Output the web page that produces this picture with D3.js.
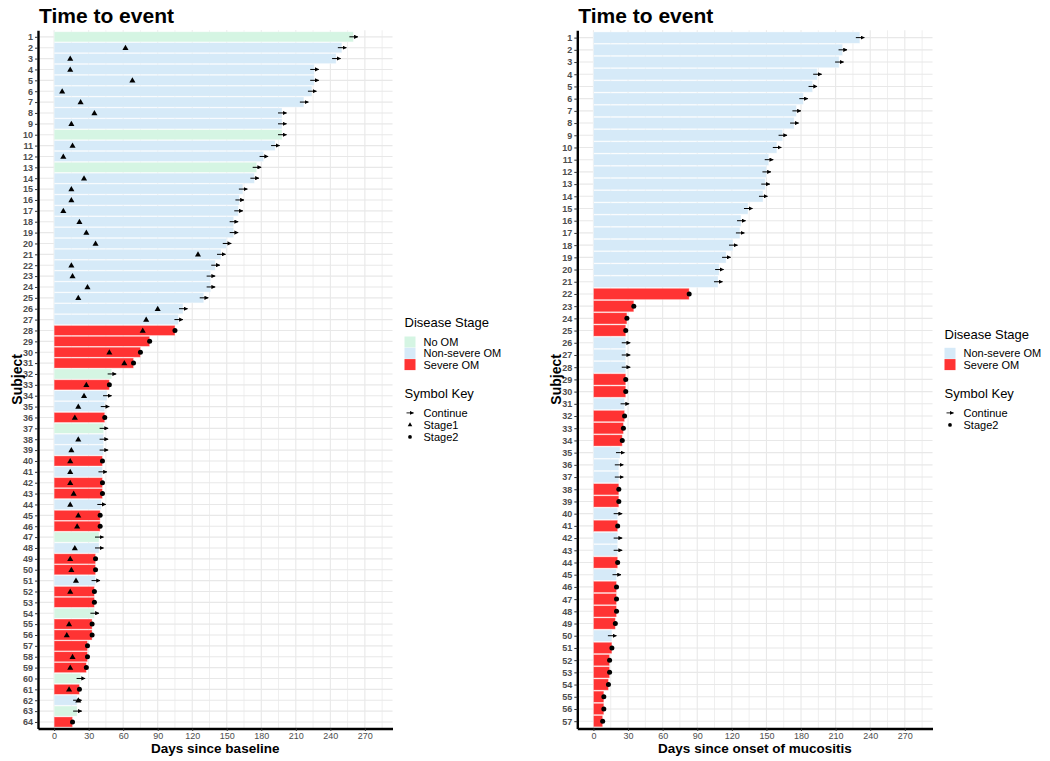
<!DOCTYPE html>
<html>
<head>
<meta charset="utf-8">
<script src="https://cdn.jsdelivr.net/npm/d3@7"></script>
<style>
  body { margin: 0; background: #fff; }
  svg { display: block; font-family: "Liberation Sans", Arial, sans-serif; }
</style>
</head>
<body>
<svg id="chart" width="1050" height="761"></svg>
<script>
// ---------------- DATA ----------------
const xTicks = [0, 30, 60, 90, 120, 150, 180, 210, 240, 270];
const xMinorTicks = [15, 45, 75, 105, 135, 165, 195, 225, 255, 285];

const stageLevels = ["No OM", "Non-severe OM", "Severe OM"];
const stageColors = ["#d5f5e3", "#d6eaf8", "#ff3333"];
const stageCodes = { N: "No OM", B: "Non-severe OM", R: "Severe OM" };

// Left panel: Days since baseline
const leftSubjects = ["1","2","3","4","5","6","7","8","9","10","11","12","13","14","15","16",
  "17","18","19","20","21","22","23","24","25","26","27","28","29","30","31","32",
  "33","34","35","36","37","38","39","40","41","42","43","44","45","46","47","48",
  "49","50","51","52","53","54","55","56","57","58","59","60","61","62","63","64"];
const leftDays = [260, 250, 245, 226, 226, 224, 217, 198, 198, 198, 192, 182, 176, 174, 164, 161,
  160, 156, 156, 150, 145, 140, 136, 136, 130, 112, 108, 105, 83, 75, 69, 50,
  48, 46, 44, 44, 43, 43, 43, 42, 42, 42, 42, 41, 40, 40, 39, 39,
  36, 36, 36, 35, 35, 35, 33, 33, 29, 29, 28, 23, 22, 20, 20, 16];
const leftStage = ["N","B","B","B","B","B","B","B","B","N","B","B","N","B","B","B",
  "B","B","B","B","B","B","B","B","B","B","B","R","R","R","R","N",
  "R","B","B","R","N","B","B","R","B","R","R","B","R","R","N","B",
  "R","R","B","R","R","N","R","R","R","R","R","N","R","B","N","R"];
const leftStage1 = [null, 62, 14, 14, 68, 7, 23, 35, 15, null, 16, 8, null, 26, 15, 15,
  8, 22, 28, 36, 125, 15, 16, 29, 21, 90, 80, 77, null, 48, 61, null,
  28, 26, 21, 18, null, 21, 15, 14, 14, 14, 17, 14, 21, 20, null, 18,
  14, 15, 19, 14, null, null, 13, 11, null, 16, 14, null, 13, 21, null, null];

// Right panel: Days since onset of mucositis
const rightSubjects = ["1","2","3","4","5","6","7","8","9","10","11","12","13","14","15","16",
  "17","18","19","20","21","22","23","24","25","26","27","28","29","30","31","32",
  "33","34","35","36","37","38","39","40","41","42","43","44","45","46","47","48",
  "49","50","51","52","53","54","55","56","57"];
const rightDays = [231, 216, 213, 194, 190, 182, 176, 174, 164, 159, 152, 150, 149, 147, 134, 128,
  127, 121, 115, 109, 108, 83, 35, 29, 28, 28, 28, 28, 28, 28, 27, 27,
  26, 25, 23, 22, 22, 22, 22, 21, 21, 21, 21, 21, 20, 20, 20, 20,
  19, 16, 16, 14, 14, 13, 9, 9, 8];
const rightStage = ["B","B","B","B","B","B","B","B","B","B","B","B","B","B","B","B",
  "B","B","B","B","B","R","R","R","R","B","B","B","R","R","B","R",
  "R","R","B","B","B","R","R","B","R","B","B","R","B","R","R","R",
  "R","B","R","R","R","R","R","R","R"];

const leftLegendStages = ["No OM", "Non-severe OM", "Severe OM"];
const rightLegendStages = ["Non-severe OM", "Severe OM"];
const leftLegendSymbols = ["Continue", "Stage1", "Stage2"];
const rightLegendSymbols = ["Continue", "Stage2"];

// ---------------- DRAW ----------------
const svg = d3.select("#chart");
const color = d3.scaleOrdinal(stageLevels, stageColors);
const triPath = d3.symbol(d3.symbolTriangle, 16)();

svg.append("defs").append("marker")
  .attr("id", "ah").attr("viewBox", "0 0 10 10")
  .attr("refX", 9).attr("refY", 5)
  .attr("markerWidth", 4.2).attr("markerHeight", 4.2)
  .attr("markerUnits", "userSpaceOnUse")
  .attr("orient", "auto")
  .append("path").attr("d", "M0,0 L10,5 L0,10 Z").attr("fill", "#000");

function drawArrow(g, x, y) {
  g.append("line")
    .attr("x1", x - 4).attr("x2", x + 4.5)
    .attr("y1", y).attr("y2", y)
    .attr("stroke", "#000").attr("stroke-width", 1)
    .attr("marker-end", "url(#ah)");
}

function drawPanel(cfg) {
  const top = 30.3, bottom = 728.5;
  const x = d3.scaleLinear().domain([-14, 294]).range([cfg.x0, cfg.x1]);
  const y = d3.scalePoint().domain(cfg.subjects).range([top, bottom]).padding(0.6);
  const step = y.step();
  const barH = step * 0.93;
  const g = svg.append("g");

  // grid
  g.selectAll(".vminor").data(xMinorTicks).join("line")
    .attr("x1", d => x(d)).attr("x2", d => x(d)).attr("y1", top).attr("y2", bottom)
    .attr("stroke", "#efefef").attr("stroke-width", 1);
  g.selectAll(".vmajor").data(xTicks).join("line")
    .attr("x1", d => x(d)).attr("x2", d => x(d)).attr("y1", top).attr("y2", bottom)
    .attr("stroke", "#e8e8e8").attr("stroke-width", 1.1);
  g.selectAll(".hgrid").data(cfg.subjects).join("line")
    .attr("x1", cfg.x0).attr("x2", cfg.x1).attr("y1", d => y(d)).attr("y2", d => y(d))
    .attr("stroke", "#e8e8e8").attr("stroke-width", 1.1);

  const rows = cfg.subjects.map((s, i) => ({
    s, v: cfg.days[i], stage: stageCodes[cfg.stage[i]],
    s1: cfg.stage1 ? cfg.stage1[i] : null
  }));

  // bars
  g.selectAll(".bar").data(rows).join("rect")
    .attr("x", x(0)).attr("y", d => y(d.s) - barH / 2)
    .attr("width", d => x(d.v) - x(0)).attr("height", barH)
    .attr("fill", d => color(d.stage))
    .attr("stroke", "#ffffff").attr("stroke-opacity", 0.45).attr("stroke-width", 0.8);

  // stage1 triangles
  g.selectAll(".tri").data(rows.filter(d => d.s1 != null)).join("path")
    .attr("d", triPath)
    .attr("transform", d => `translate(${x(d.s1)},${y(d.s) + 0.5})`)
    .attr("fill", "#000");

  // continue arrows
  rows.filter(d => d.stage !== "Severe OM").forEach(d => drawArrow(g, x(d.v), y(d.s)));

  // stage2 dots
  g.selectAll(".dot").data(rows.filter(d => d.stage === "Severe OM")).join("circle")
    .attr("cx", d => x(d.v)).attr("cy", d => y(d.s)).attr("r", 2.5)
    .attr("fill", "#000");

  // axes
  const ax = g.append("g").attr("transform", `translate(0,${bottom})`)
    .call(d3.axisBottom(x).tickValues(xTicks).tickSize(2.5).tickSizeOuter(0).tickPadding(1.5));
  ax.selectAll(".tick line").attr("stroke", "#333");
  ax.selectAll(".tick text").attr("fill", "#4d4d4d").attr("font-size", 9)
    .attr("font-family", "Liberation Sans, Arial, sans-serif");
  ax.select(".domain").attr("stroke", "#000").attr("stroke-width", 2.4);

  const ay = g.append("g").attr("transform", `translate(${cfg.x0},0)`)
    .call(d3.axisLeft(y).tickSize(3).tickSizeOuter(0).tickPadding(2));
  ay.selectAll(".tick line").attr("stroke", "#333");
  ay.selectAll(".tick text").attr("fill", "#4d4d4d").attr("font-size", 9)
    .attr("font-weight", "bold")
    .attr("font-family", "Liberation Sans, Arial, sans-serif");
  ay.select(".domain").attr("stroke", "#000").attr("stroke-width", 2.4);

  // titles
  svg.append("text").attr("x", cfg.x0 + 1).attr("y", 23)
    .attr("font-size", 21).attr("font-weight", "bold").attr("fill", "#000")
    .text(cfg.title);
  svg.append("text").attr("x", (cfg.x0 + cfg.x1) / 2).attr("y", 752.5)
    .attr("text-anchor", "middle").attr("font-size", 13.5).attr("font-weight", "bold")
    .attr("fill", "#000").text(cfg.xTitle);
  svg.append("text")
    .attr("transform", `translate(${cfg.x0 - 16},${(top + bottom) / 2}) rotate(-90)`)
    .attr("text-anchor", "middle").attr("font-size", 14).attr("font-weight", "bold")
    .attr("fill", "#000").text("Subject");

  // legend
  const lg = svg.append("g").attr("transform", `translate(${cfg.x1 + 12},0)`);
  let ly = cfg.legendTop;
  lg.append("text").attr("x", 0).attr("y", ly + 4.5).attr("font-size", 13)
    .attr("fill", "#000").text("Disease Stage");
  ly += 19.3;
  cfg.legendStages.forEach((s, i) => {
    const yy = ly + i * 11.3;
    lg.append("rect").attr("x", 0).attr("y", yy - 5.5).attr("width", 11).attr("height", 11)
      .attr("fill", color(s));
    lg.append("text").attr("x", 19).attr("y", yy + 4).attr("font-size", 11)
      .attr("fill", "#000").text(s);
  });
  ly += (cfg.legendStages.length - 1) * 11.3 + 29;
  lg.append("text").attr("x", 0).attr("y", ly + 4.5).attr("font-size", 13)
    .attr("fill", "#000").text("Symbol Key");
  ly += 19.3;
  cfg.legendSymbols.forEach((s, i) => {
    const yy = ly + i * 12;
    const cx = 5.5;
    if (s === "Continue") {
      lg.append("line").attr("x1", cx - 3.5).attr("x2", cx + 3.5).attr("y1", yy).attr("y2", yy)
        .attr("stroke", "#000").attr("stroke-width", 0.9).attr("marker-end", "url(#ah)");
    } else if (s === "Stage1") {
      lg.append("path").attr("d", d3.symbol(d3.symbolTriangle, 9)())
        .attr("transform", `translate(${cx},${yy})`).attr("fill", "#000");
    } else {
      lg.append("circle").attr("cx", cx).attr("cy", yy).attr("r", 1.9).attr("fill", "#000");
    }
    lg.append("text").attr("x", 19).attr("y", yy + 4).attr("font-size", 11)
      .attr("fill", "#000").text(s);
  });
}

drawPanel({
  x0: 38, x1: 392.5, subjects: leftSubjects, days: leftDays, stage: leftStage,
  stage1: leftStage1, title: "Time to event", xTitle: "Days since baseline",
  legendStages: leftLegendStages, legendSymbols: leftLegendSymbols, legendTop: 322.7
});
drawPanel({
  x0: 577.3, x1: 932.5, subjects: rightSubjects, days: rightDays, stage: rightStage,
  stage1: null, title: "Time to event", xTitle: "Days since onset of mucositis",
  legendStages: rightLegendStages, legendSymbols: rightLegendSymbols, legendTop: 334
});
</script>
</body>
</html>
